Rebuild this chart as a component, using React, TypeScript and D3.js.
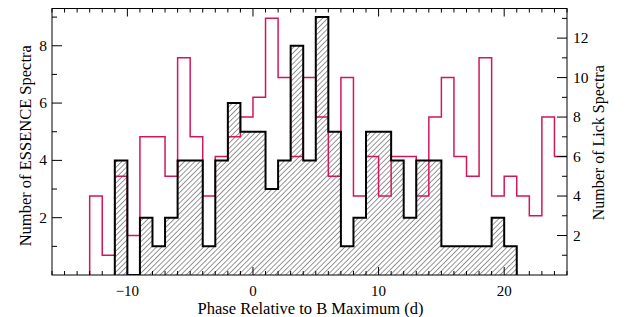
import React from "react"
import * as d3 from "d3"

// ESSENCE histogram: counts per 1-day bin, first bin starts at -11 d
const essenceStart = -11
const essenceCounts = [4, 0, 2, 1, 2, 4, 4, 1, 4, 6, 5, 5, 3, 4, 8, 4, 9, 5, 1, 2, 5, 5, 4, 2, 4, 4, 1, 1, 1, 1, 2, 1]

// Lick histogram: counts per 1-day bin, first bin starts at -13 d
const lickStart = -13
const lickCounts = [4, 1, 5, 2, 7, 7, 5, 11, 7, 4, 6, 7, 8, 9, 13, 10, 6, 10, 8, 5, 10, 4, 6, 4, 6, 6, 4, 8, 10, 6, 5, 11, 4, 5, 4, 3, 8, 6]

const xMajorTicks = [-10, 0, 10, 20]
const leftMajorTicks = [2, 4, 6, 8]
const rightMajorTicks = [2, 4, 6, 8, 10, 12]

const W = 626
const H = 317
const left = 52
const right = 567
const top = 8.5
const bottom = 275

const font = "'Liberation Serif', 'Times New Roman', serif"
const red = "#d2165c"

const App = () => {
	const x = d3.scaleLinear().domain([-16, 25]).range([left, right])
	const yL = d3.scaleLinear().domain([0, 9.3]).range([bottom, top])
	const yR = d3.scaleLinear().domain([0, 13.5]).range([bottom, top])

	// step outline of the ESSENCE histogram, down to zero at both ends
	const essencePts: [number, number][] = [[essenceStart, 0]]
	essenceCounts.forEach((c, i) => essencePts.push([essenceStart + i, c]))
	essencePts.push([essenceStart + essenceCounts.length, 0])
	const essenceLine = d3
		.line<[number, number]>()
		.x(d => x(d[0]))
		.y(d => yL(d[1]))
		.curve(d3.curveStepAfter)

	// Lick step line, stops at the right edge
	const lickPts: [number, number][] = [[lickStart, 0]]
	lickCounts.forEach((c, i) => lickPts.push([lickStart + i, c]))
	lickPts.push([lickStart + lickCounts.length, lickCounts[lickCounts.length - 1]])
	const lickLine = d3
		.line<[number, number]>()
		.x(d => x(d[0]))
		.y(d => yR(d[1]))
		.curve(d3.curveStepAfter)

	const xMinor = d3.range(-16, 26).filter(v => !xMajorTicks.includes(v))
	const leftMinor = d3.range(1, 10, 2)
	const rightMinor = d3.range(1, 14, 2)

	const tick = { stroke: "#000", strokeWidth: 1 }

	return (
		<svg width={W} height={H} style={{ position: "absolute", left: 0, top: 0, background: "#fff" }}>
			<defs>
				<pattern id="hatch" patternUnits="userSpaceOnUse" width={3.7} height={10} patternTransform="rotate(45)">
					<line x1={0} y1={0} x2={0} y2={10} stroke="#000" strokeWidth={0.85} />
				</pattern>
				<clipPath id="plot">
					<rect x={left} y={top} width={right - left} height={bottom - top} />
				</clipPath>
			</defs>

			<g clipPath="url(#plot)">
				<path d={essenceLine(essencePts) ?? ""} fill="url(#hatch)" stroke="none" />
				<path d={lickLine(lickPts) ?? ""} fill="none" stroke={red} strokeWidth={1.5} />
				<path d={essenceLine(essencePts) ?? ""} fill="none" stroke="#000" strokeWidth={2} />
			</g>

			{/* frame */}
			<rect x={left} y={top} width={right - left} height={bottom - top} fill="none" stroke="#000" strokeWidth={1} />

			{/* x ticks, bottom and top */}
			{xMajorTicks.map(v => (
				<g key={"xM" + v}>
					<line x1={x(v)} x2={x(v)} y1={bottom} y2={bottom - 8} {...tick} />
					<line x1={x(v)} x2={x(v)} y1={top} y2={top + 8} {...tick} />
					<text x={x(v)} y={296} textAnchor="middle" fontFamily={font} fontSize={15}>
						{v < 0 ? "\u2212" + Math.abs(v) : v}
					</text>
				</g>
			))}
			{xMinor.map(v => (
				<g key={"xm" + v}>
					<line x1={x(v)} x2={x(v)} y1={bottom} y2={bottom - 4} {...tick} />
					<line x1={x(v)} x2={x(v)} y1={top} y2={top + 4} {...tick} />
				</g>
			))}

			{/* left axis */}
			{leftMajorTicks.map(v => (
				<g key={"lM" + v}>
					<line x1={left} x2={left + 10} y1={yL(v)} y2={yL(v)} {...tick} />
					<text x={47} y={yL(v) + 5} textAnchor="end" fontFamily={font} fontSize={15.5}>
						{v}
					</text>
				</g>
			))}
			{leftMinor.map(v => (
				<line key={"lm" + v} x1={left} x2={left + 5} y1={yL(v)} y2={yL(v)} {...tick} />
			))}

			{/* right axis */}
			{rightMajorTicks.map(v => (
				<g key={"rM" + v}>
					<line x1={right} x2={right - 10} y1={yR(v)} y2={yR(v)} {...tick} />
					<text x={573} y={yR(v) + 5} textAnchor="start" fontFamily={font} fontSize={15.5}>
						{v}
					</text>
				</g>
			))}
			{rightMinor.map(v => (
				<line key={"rm" + v} x1={right} x2={right - 5} y1={yR(v)} y2={yR(v)} {...tick} />
			))}

			{/* axis titles */}
			<text x={(left + right) / 2 + 1} y={314} textAnchor="middle" fontFamily={font} fontSize={16.5}>
				Phase Relative to B Maximum (d)
			</text>
			<text
				transform={`translate(27, ${(top + bottom) / 2 + 4}) rotate(-90)`}
				textAnchor="middle"
				dominantBaseline="middle"
				fontFamily={font}
				fontSize={16.5}
			>
				Number of ESSENCE Spectra
			</text>
			<text
				transform={`translate(600, ${(top + bottom) / 2 + 1}) rotate(-90)`}
				textAnchor="middle"
				dominantBaseline="middle"
				fontFamily={font}
				fontSize={16}
			>
				Number of Lick Spectra
			</text>
		</svg>
	)
}

export default App
